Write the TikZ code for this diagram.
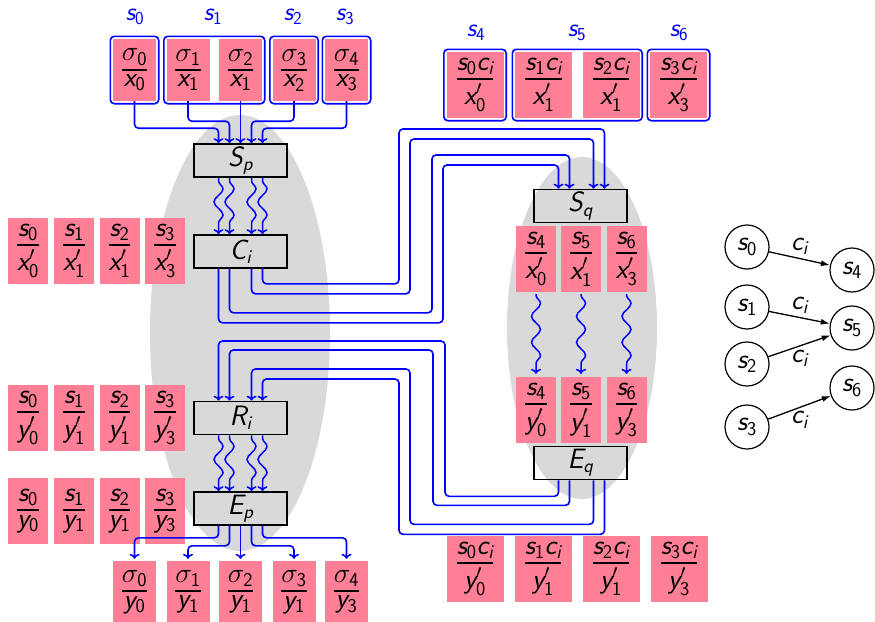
\RequirePackage{fix-cm}
\documentclass[tikz,border=0pt]{standalone}
\usepackage{amsmath}
\usetikzlibrary{positioning,fit,arrows.meta,decorations.pathmorphing}

% sans serif math letters and digits, greek from cm
\SetSymbolFont{operators}{normal}{TU}{lmss}{m}{n}
\SetSymbolFont{letters}{normal}{TU}{lmss}{m}{sl}
\DeclareSymbolFont{cmletters}{OML}{cmm}{m}{it}
\DeclareMathSymbol{\sigma}{\mathord}{cmletters}{"1B}

% compact stacked fraction
\newcommand{\fr}[2]{\vcenter{\offinterlineskip\halign{\hfil$##$\hfil\cr#1\cr
  \noalign{\kern3.5pt\hrule height1.8pt\kern4pt}#2\cr}}}

\definecolor{fracpink}{RGB}{255,128,150}
\definecolor{blobgray}{RGB}{217,217,217}

\tikzset{
  fr/.style={fill=fracpink, inner sep=0pt, minimum width=43pt, minimum height=62pt},
  frw/.style={fr, minimum width=57pt, minimum height=66pt},
  frn/.style={fr, minimum width=40pt, minimum height=66pt},
  grp/.style={draw=blue, line width=1.6pt, rounded corners=4pt, inner sep=2.5pt},
  op/.style={draw=black, line width=1.6pt, minimum width=93pt, minimum height=33pt, inner sep=0pt},
  wire/.style={blue, line width=1.6pt, rounded corners=4pt, -{To[length=5pt,width=10pt]}},
  wavy/.style={blue, line width=1.5pt, -{To[length=5pt,width=10pt]}, decorate,
    decoration={snake, amplitude=4.5pt, segment length=26pt, pre length=3pt, post length=9pt}},
  st/.style={circle, draw, line width=1.2pt, minimum size=44pt, inner sep=0pt},
  gedge/.style={-{Latex[length=9pt,width=6pt]}, line width=1.3pt},
  lab/.style={blue, font=\fontsize{26}{30}\selectfont},
}

\begin{document}
\begin{tikzpicture}[x=1pt, y=-1pt, font=\fontsize{28}{33}\selectfont]
\useasboundingbox (0,0) rectangle (875,621);

% gray blobs
\fill[blobgray] (240,333) ellipse [x radius=90pt, y radius=218pt];
\fill[blobgray] (582,328) ellipse [x radius=75pt, y radius=171pt];

% top left: sigma / x
\node[fr] (t0) at (134.5,70) {$\fr{\sigma_0}{x_0}$};
\node[fr] (t1) at (188,70) {$\fr{\sigma_1}{x_1}$};
\node[fr] (t2) at (240.5,70) {$\fr{\sigma_2}{x_1}$};
\node[fr] (t3) at (294,70) {$\fr{\sigma_3}{x_2}$};
\node[fr] (t4) at (346.5,70) {$\fr{\sigma_4}{x_3}$};
\node[grp, fit=(t0)] (g0) {};
\node[grp, fit=(t1)(t2)] (g1) {};
\node[grp, fit=(t3)] (g2) {};
\node[grp, fit=(t4)] (g3) {};
\node[lab] (l0) at (135,17) {$s_0$};
\node[lab] (l1) at (213,17) {$s_1$};
\node[lab] (l2) at (293,17) {$s_2$};
\node[lab] (l3) at (345,17) {$s_3$};

% top right: s c / x'
\node[frw] (u0) at (475,85) {$\fr{s_0c_i}{x'_0}$};
\node[frw] (u1) at (543.5,85) {$\fr{s_1c_i}{x'_1}$};
\node[frw] (u2) at (611,85) {$\fr{s_2c_i}{x'_1}$};
\node[frw] (u3) at (678.5,85) {$\fr{s_3c_i}{x'_3}$};
\node[grp, fit=(u0)] (h0) {};
\node[grp, fit=(u1)(u2)] (h1) {};
\node[grp, fit=(u3)] (h2) {};
\node[lab] (l4) at (476,33) {$s_4$};
\node[lab] (l5) at (577,33) {$s_5$};
\node[lab] (l6) at (679,33) {$s_6$};

% left column boxes
\node[op] (Sp) at (240.5,160.5) {$S_p$};
\node[op] (Ci) at (240.5,251.5) {$C_i$};
\node[op] (Ri) at (240.5,418) {$R_i$};
\node[op] (Ep) at (240.5,508.5) {$E_p$};

% right column boxes
\node[op] (Sq) at (580.5,206) {$S_q$};
\node[op] (Eq) at (580.5,463) {$E_q$};

% left rows
\node[frn] (a0) at (28,251) {$\fr{s_0}{x'_0}$};
\node[frn] (a1) at (74,251) {$\fr{s_1}{x'_1}$};
\node[frn] (a2) at (119.5,251) {$\fr{s_2}{x'_1}$};
\node[frn] (a3) at (165,251) {$\fr{s_3}{x'_3}$};
\node[frn] (c0) at (28,418) {$\fr{s_0}{y'_0}$};
\node[frn] (c1) at (74,418) {$\fr{s_1}{y'_1}$};
\node[frn] (c2) at (119.5,418) {$\fr{s_2}{y'_1}$};
\node[frn] (c3) at (165,418) {$\fr{s_3}{y'_3}$};
\node[frn] (d0) at (28,511) {$\fr{s_0}{y_0}$};
\node[frn] (d1) at (74,511) {$\fr{s_1}{y_1}$};
\node[frn] (d2) at (119.5,511) {$\fr{s_2}{y_1}$};
\node[frn] (d3) at (165,511) {$\fr{s_3}{y_3}$};

% right blob boxes
\node[frn] (q4) at (536,259) {$\fr{s_4}{x'_0}$};
\node[frn] (q5) at (581,259) {$\fr{s_5}{x'_1}$};
\node[frn] (q6) at (626.5,259) {$\fr{s_6}{x'_3}$};
\node[frn] (r4) at (536,410) {$\fr{s_4}{y'_0}$};
\node[frn] (r5) at (581,410) {$\fr{s_5}{y'_1}$};
\node[frn] (r6) at (626.5,410) {$\fr{s_6}{y'_3}$};

% bottom: sigma / y
\node[fr] (b0) at (134.5,592) {$\fr{\sigma_0}{y_0}$};
\node[fr] (b1) at (188,592) {$\fr{\sigma_1}{y_1}$};
\node[fr] (b2) at (240.5,592) {$\fr{\sigma_2}{y_1}$};
\node[fr] (b3) at (294,592) {$\fr{\sigma_3}{y_1}$};
\node[fr] (b4) at (346.5,592) {$\fr{\sigma_4}{y_3}$};

% bottom right: s c / y'
\node[frw] (v0) at (475,569) {$\fr{s_0c_i}{y'_0}$};
\node[frw] (v1) at (543,569) {$\fr{s_1c_i}{y'_1}$};
\node[frw] (v2) at (611,569) {$\fr{s_2c_i}{y'_1}$};
\node[frw] (v3) at (679,569) {$\fr{s_3c_i}{y'_3}$};

% into S_p
\draw[wire] (t0.south) -- ++(0,27) -| ([xshift=-22pt]Sp.north);
\draw[wire] (t1.south) -- ++(0,20) -| ([xshift=-11pt]Sp.north);
\draw[wire] (t2.south) -- (Sp.north);
\draw[wire] (t3.south) -- ++(0,20) -| ([xshift=11pt]Sp.north);
\draw[wire] (t4.south) -- ++(0,27) -| ([xshift=22pt]Sp.north);

% S_p -> C_i, R_i -> E_p
\foreach \dx in {-22,-11,11,22} {
  \draw[wavy] ([xshift=\dx pt]Sp.south) -- ([xshift=\dx pt]Ci.north);
  \draw[wavy] ([xshift=\dx pt]Ri.south) -- ([xshift=\dx pt]Ep.north);
}

% C_i -> S_q
\draw[wire] ([xshift=22pt]Ci.south) -- ++(0,15) -| (399,129) -| ([xshift=24pt]Sq.north);
\draw[wire] ([xshift=11pt]Ci.south) -- ++(0,25) -| (410,139) -| ([xshift=13pt]Sq.north);
\draw[wire] ([xshift=-11pt]Ci.south) -- ++(0,44) -| (432,155) -| ([xshift=-11pt]Sq.north);
\draw[wire] ([xshift=-22pt]Ci.south) -- ++(0,54) -| (443,165) -| ([xshift=-22pt]Sq.north);

% S_q side
\draw[wavy, shorten <=2pt, shorten >=3pt] (q4.south) -- (r4.north);
\draw[wavy, shorten <=2pt, shorten >=3pt] (q5.south) -- (r5.north);
\draw[wavy, shorten <=2pt, shorten >=3pt] (q6.south) -- (r6.north);

% E_q -> R_i
\draw[wire] ([xshift=-22pt]Eq.south) -- ++(0,16) -| (445,341) -| ([xshift=-22pt]Ri.north);
\draw[wire] ([xshift=-11pt]Eq.south) -- ++(0,25) -| (433,350) -| ([xshift=-11pt]Ri.north);
\draw[wire] ([xshift=13pt]Eq.south) -- ++(0,44) -| (410,369) -| ([xshift=11pt]Ri.north);
\draw[wire] ([xshift=24pt]Eq.south) -- ++(0,54) -| (399,379) -| ([xshift=22pt]Ri.north);

% out of E_p
\draw[wire, shorten >=2pt] ([xshift=-22pt]Ep.south) -- ++(0,12) -| (b0.north);
\draw[wire, shorten >=2pt] ([xshift=-11pt]Ep.south) -- ++(0,20) -| (b1.north);
\draw[wire, shorten >=2pt] (Ep.south) -- (b2.north);
\draw[wire, shorten >=2pt] ([xshift=11pt]Ep.south) -- ++(0,20) -| (b3.north);
\draw[wire, shorten >=2pt] ([xshift=22pt]Ep.south) -- ++(0,12) -| (b4.north);

% state graph
\node[st] (n0) at (747,247) {$s_0$};
\node[st] (n1) at (747,307) {$s_1$};
\node[st] (n2) at (747,364) {$s_2$};
\node[st] (n3) at (747,427) {$s_3$};
\node[st] (n4) at (852,270) {$s_4$};
\node[st] (n5) at (852,328) {$s_5$};
\node[st] (n6) at (852,388) {$s_6$};
\draw[gedge] (n0) -- node[above] {$c_i$} (n4);
\draw[gedge] (n1) -- node[above] {$c_i$} (n5);
\draw[gedge] (n2) -- node[below] {$c_i$} (n5);
\draw[gedge] (n3) -- node[below] {$c_i$} (n6);
\end{tikzpicture}
\end{document}
